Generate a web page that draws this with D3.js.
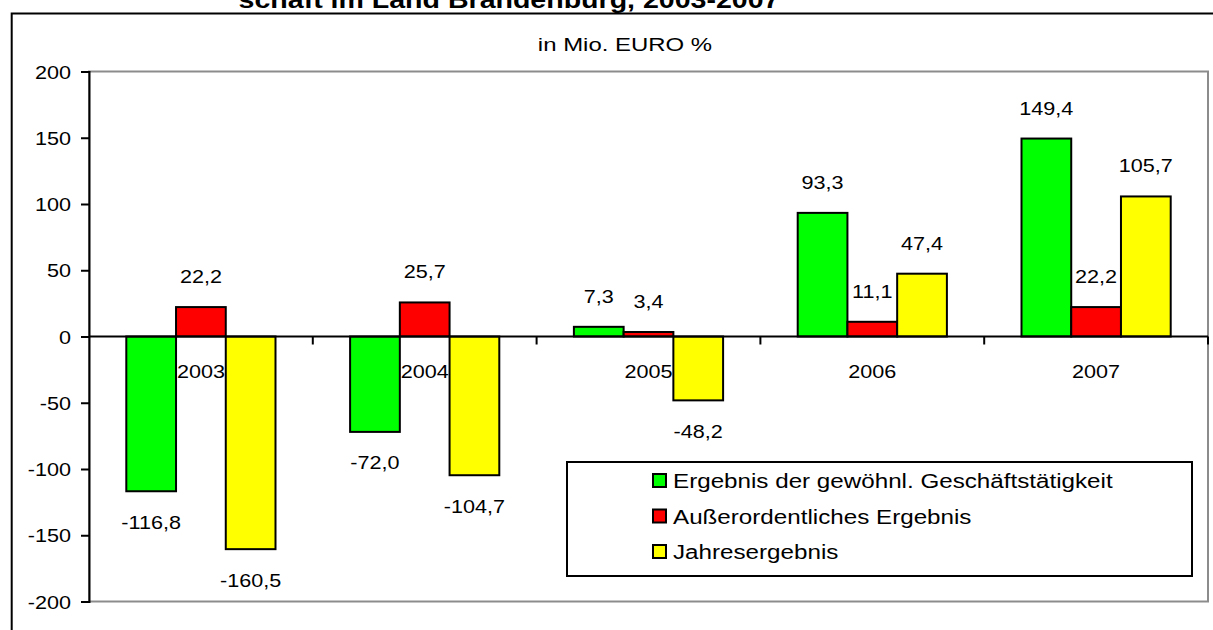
<!DOCTYPE html>
<html>
<head>
<meta charset="utf-8">
<script src="https://cdn.jsdelivr.net/npm/d3@7"></script>
<style>
  html, body { margin: 0; padding: 0; background: #fff; }
  svg { display: block; }
  text { font-family: "Liberation Sans", Arial, sans-serif; fill: #000; }
</style>
</head>
<body>
<svg id="chart" width="1213" height="630"></svg>
<script>
// ---- data ----
const titleText = "schaft im Land Brandenburg, 2003-2007";
const subtitleText = "in Mio. EURO %";
const years = ["2003", "2004", "2005", "2006", "2007"];
const seriesNames = [
  "Ergebnis der gewöhnl. Geschäftstätigkeit",
  "Außerordentliches Ergebnis",
  "Jahresergebnis"
];
const seriesColors = ["#00FF00", "#FF0000", "#FFFF00"];
const gewoehnlich = [-116.8, -72.0, 7.3, 93.3, 149.4];
const ausserordentlich = [22.2, 25.7, 3.4, 11.1, 22.2];
const jahresergebnis = [-160.5, -104.7, -48.2, 47.4, 105.7];
const yTicks = [-200, -150, -100, -50, 0, 50, 100, 150, 200];

const seriesValues = [gewoehnlich, ausserordentlich, jahresergebnis];

// ---- layout ----
const svg = d3.select("#chart");
const W = 1213, H = 630;
const plot = { left: 89, right: 1208, top: 71.5, bottom: 601.5 };
const SX = 1.2; // horizontal glyph stretch of the original

const de = d3.formatLocale({ decimal: ",", thousands: ".", grouping: [3], currency: ["", " €"], minus: "-" });
const fmt1 = de.format(".1f");
const fmt0 = de.format("d");

svg.append("rect").attr("width", W).attr("height", H).attr("fill", "#fff");

// outer chart border (black, partly cut by the picture edges)
svg.append("rect")
  .attr("x", 11.7).attr("y", 13.5)
  .attr("width", W + 20).attr("height", H + 20)
  .attr("fill", "none").attr("stroke", "#000").attr("stroke-width", 2);

function stretchedText(g, x, y, txt, size, sx, anchor, weight) {
  return g.append("text")
    .attr("transform", `translate(${x},${y}) scale(${sx},1)`)
    .attr("text-anchor", anchor || "middle")
    .attr("font-size", size)
    .attr("font-weight", weight || "normal")
    .text(txt);
}

// title (partly cut at top, as in the original) and subtitle
stretchedText(svg, 509, 8, titleText, 24, 1.19, "middle", "bold");
stretchedText(svg, 625, 51, subtitleText, 19, 1.26, "middle");

// scales
const y = d3.scaleLinear().domain([-200, 200]).range([plot.bottom, plot.top]);
const x0 = d3.scaleBand().domain(years).range([plot.left, plot.right]).paddingInner(0).paddingOuter(0);
const x1 = d3.scaleBand().domain(d3.range(seriesNames.length))
  .range([0, x0.bandwidth()]).paddingInner(0).paddingOuter(0.75);

// plot area border (gray)
svg.append("rect")
  .attr("x", plot.left).attr("y", plot.top)
  .attr("width", plot.right - plot.left).attr("height", plot.bottom - plot.top)
  .attr("fill", "#fff").attr("stroke", "#8c8c8c").attr("stroke-width", 2);

// bars
const barData = [];
years.forEach((yr, i) => {
  seriesValues.forEach((vals, s) => {
    barData.push({ year: yr, s: s, v: vals[i] });
  });
});

const gBars = svg.append("g");
gBars.selectAll("rect").data(barData).enter().append("rect")
  .attr("x", d => x0(d.year) + x1(d.s))
  .attr("width", x1.bandwidth())
  .attr("y", d => y(Math.max(0, d.v)))
  .attr("height", d => Math.abs(y(d.v) - y(0)))
  .attr("fill", d => seriesColors[d.s])
  .attr("stroke", "#000").attr("stroke-width", 2);

// y axis
const yAxis = d3.axisLeft(y).tickValues(yTicks).tickSize(8).tickPadding(0).tickFormat(fmt0);
const gy = svg.append("g").attr("transform", `translate(${plot.left},0)`).call(yAxis);
gy.select(".domain").attr("stroke", "#000").attr("stroke-width", 2);
gy.selectAll(".tick line").attr("stroke", "#000").attr("stroke-width", 2);
gy.selectAll(".tick text")
  .attr("x", null).attr("dy", null)
  .attr("font-size", 18).attr("font-family", null)
  .attr("text-anchor", "end")
  .attr("transform", `translate(-18,6.5) scale(${SX},1)`);

// zero line with category boundary ticks
const gx = svg.append("g").attr("transform", `translate(0,${y(0)})`);
gx.append("line").attr("x1", plot.left).attr("x2", plot.right)
  .attr("stroke", "#000").attr("stroke-width", 2);
const boundaries = years.map(yr => x0(yr)).concat([x0.range()[1]]);
gx.selectAll("line.tk").data(boundaries.slice(1)).enter().append("line")
  .attr("class", "tk")
  .attr("x1", d => d).attr("x2", d => d)
  .attr("y1", 0).attr("y2", 8)
  .attr("stroke", "#000").attr("stroke-width", 2);

// category labels
const xAxis = d3.axisBottom(x0).tickSize(0).tickPadding(0);
const gxl = svg.append("g").attr("transform", `translate(0,${y(0)})`).call(xAxis);
gxl.select(".domain").remove();
gxl.selectAll(".tick text")
  .attr("y", null).attr("dy", null)
  .attr("font-size", 18).attr("font-family", null)
  .attr("transform", `translate(0,41.5) scale(${SX},1)`);

// data labels
const gLab = svg.append("g");
barData.forEach(d => {
  const cx = x0(d.year) + x1(d.s) + x1.bandwidth() / 2;
  const yy = d.v >= 0 ? y(d.v) - 24 : y(d.v) + 37.5;
  stretchedText(gLab, cx, yy, fmt1(d.v), 18, SX, "middle");
});

// legend
const lg = svg.append("g");
lg.append("rect")
  .attr("x", 567).attr("y", 462).attr("width", 625).attr("height", 114)
  .attr("fill", "#fff").attr("stroke", "#000").attr("stroke-width", 2);
seriesNames.forEach((name, i) => {
  const base = 488 + i * 35.5;
  lg.append("rect")
    .attr("x", 653).attr("y", base - 14).attr("width", 13).attr("height", 13)
    .attr("fill", seriesColors[i]).attr("stroke", "#000").attr("stroke-width", 2);
  stretchedText(lg, 673, base, name, 20, 1.21, "start");
});
</script>
</body>
</html>
